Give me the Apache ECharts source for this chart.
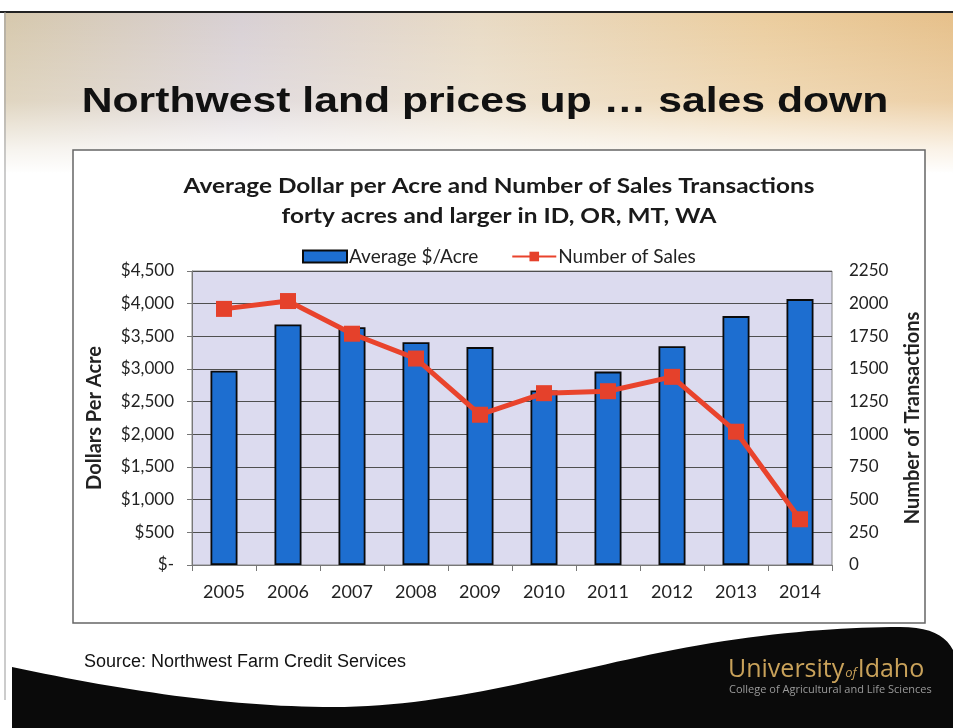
<!DOCTYPE html>
<html style="height: 100%">
<head>
  <meta charset="utf-8">
</head>
<body style="height: 100%; margin: 0; background: #fff">
  <div id="container" style="width: 953px; height: 728px"></div>
  <script type="text/javascript" src="https://cdn.jsdelivr.net/npm/echarts@6/dist/echarts.min.js"></script>
  <script type="text/javascript">
    var years = ['2005', '2006', '2007', '2008', '2009', '2010', '2011', '2012', '2013', '2014'];
    var avgPerAcre = [2975, 3680, 3640, 3410, 3335, 2670, 2960, 3350, 3810, 4070];
    var numSales = [1960, 2020, 1770, 1580, 1150, 1315, 1330, 1440, 1020, 350];

    var dom = document.getElementById('container');
    var myChart = echarts.init(dom);
    var chartFont = 'Lato';

    // outline of the black swoosh at the bottom of the slide (cubic curves)
    function cubic(p0, p1, p2, p3, n, out) {
      for (var i = 0; i <= n; i++) {
        var t = i / n, u = 1 - t;
        out.push([
          u * u * u * p0[0] + 3 * u * u * t * p1[0] + 3 * u * t * t * p2[0] + t * t * t * p3[0],
          u * u * u * p0[1] + 3 * u * u * t * p1[1] + 3 * u * t * t * p2[1] + t * t * t * p3[1]
        ]);
      }
      return out;
    }
    var wave = [];
    cubic([12, 667], [120, 690], [230, 707], [333, 707], 30, wave);
    cubic([333, 707], [450, 707], [560, 672], [673, 650], 30, wave);
    cubic([673, 650], [760, 633], [840, 627], [900, 627], 20, wave);
    cubic([900, 627], [930, 627], [945, 635], [953, 650], 10, wave);
    wave.push([953, 728], [12, 728]);

    // the slide is stretched sideways, so the text is too
    var stretch = 1.22;

    var decor = [
      {
        type: 'rect', z: -10, silent: true,
        shape: { x: 4, y: 12, width: 949, height: 160 },
        style: {
          fill: new echarts.graphic.LinearGradient(0, 0, 1, 0, [
            { offset: 0, color: '#d6c8ac' },
            { offset: 0.25, color: '#d8d0d4' },
            { offset: 0.5, color: '#e8dac4' },
            { offset: 0.8, color: '#ebcd9e' },
            { offset: 1, color: '#e6c08a' }
          ])
        }
      },
      {
        type: 'rect', z: -9, silent: true,
        shape: { x: 4, y: 12, width: 949, height: 162 },
        style: {
          fill: new echarts.graphic.LinearGradient(0, 0, 0, 1, [
            { offset: 0, color: 'rgba(255,255,255,0)' },
            { offset: 0.55, color: 'rgba(255,255,255,0.25)' },
            { offset: 0.85, color: 'rgba(255,255,255,0.8)' },
            { offset: 1, color: 'rgba(255,255,255,1)' }
          ])
        }
      },
      {
        type: 'line', z: -8, silent: true,
        shape: { x1: 0, y1: 12, x2: 953, y2: 12 },
        style: { stroke: '#222', lineWidth: 2 }
      },
      {
        type: 'line', z: -8, silent: true,
        shape: { x1: 5, y1: 12, x2: 5, y2: 700 },
        style: { stroke: '#999', lineWidth: 1 }
      },
      {
        type: 'rect', z: -7, silent: true,
        shape: { x: 73, y: 150, width: 852, height: 473 },
        style: { fill: '#ffffff', stroke: '#666', lineWidth: 1.5 }
      },
      {
        type: 'polygon', z: -6, silent: true,
        shape: { points: wave },
        style: { fill: '#0a0a0a' }
      },
      {
        type: 'text', z: 5, silent: true,
        x: 485, y: 102, scaleX: stretch,
        style: {
          text: 'Northwest land prices up … sales down',
          font: 'bold 35px "Liberation Sans", Arial, sans-serif',
          fill: '#111',
          align: 'center', verticalAlign: 'middle'
        }
      },
      {
        type: 'text', z: 5, silent: true,
        x: 499, y: 202, scaleX: stretch,
        style: {
          text: 'Average Dollar per Acre and Number of Sales Transactions\nforty acres and larger in ID, OR, MT, WA',
          font: 'bold 20px ' + chartFont,
          lineHeight: 30,
          fill: '#1a1a1a',
          align: 'center', verticalAlign: 'middle'
        }
      },
      {
        type: 'text', z: 5, silent: true,
        left: 84, top: 653,
        style: {
          text: 'Source: Northwest Farm Credit Services',
          font: '18px "Liberation Sans", Arial, sans-serif',
          fill: '#111'
        }
      },
      {
        type: 'text', z: 5, silent: true,
        left: 728, top: 657,
        style: {
          text: '{a|University}{b|of}{a|Idaho}',
          rich: {
            a: { font: '25px "Open Sans", sans-serif', fill: '#c9a25a' },
            b: { font: 'italic 13px "Open Sans", sans-serif', fill: '#c9a25a', padding: [7, 1, 0, 1] }
          }
        }
      },
      {
        type: 'text', z: 5, silent: true,
        left: 729, top: 684,
        style: {
          text: 'College of Agricultural and Life Sciences',
          font: '11px "Open Sans", sans-serif',
          fill: '#9a9a9a'
        }
      }
    ];

    var option = {
      backgroundColor: 'transparent',
      animation: false,
      graphic: decor,
      legend: {
        top: 247,
        left: 302,
        padding: 0,
        itemGap: 33,
        itemWidth: 44,
        itemHeight: 12,
        textStyle: { fontFamily: chartFont, fontSize: 19, color: '#222', padding: [0, 0, 0, -3] },
        data: [
          { name: 'Average $/Acre', icon: 'rect' },
          { name: 'Number of Sales' }
        ]
      },
      grid: {
        left: 192,
        right: 121,
        top: 271,
        bottom: 163,
        show: true,
        backgroundColor: '#dcdbef',
        borderColor: '#888',
        borderWidth: 1
      },
      xAxis: {
        type: 'category',
        data: years,
        axisLine: { lineStyle: { color: '#777', width: 1 } },
        axisTick: { show: true, length: 6, lineStyle: { color: '#777' } },
        axisLabel: { margin: 18, fontFamily: chartFont, fontSize: 18, color: '#222' }
      },
      yAxis: [
        {
          type: 'value',
          min: 0, max: 4500, interval: 500,
          name: 'Dollars Per Acre',
          nameLocation: 'middle',
          nameGap: 87,
          nameRotate: 90,
          nameTextStyle: { fontFamily: chartFont, fontWeight: 'bold', fontSize: 20, color: '#222' },
          axisLine: { show: true, lineStyle: { color: '#777' } },
          axisTick: { show: true, length: 5, lineStyle: { color: '#777' } },
          splitLine: { lineStyle: { color: '#4f4f4f', width: 1 } },
          axisLabel: {
            margin: 18, fontFamily: chartFont, fontSize: 17, color: '#222',
            formatter: function (v) {
              if (v === 0) return '$-';
              return '$' + v.toLocaleString('en-US');
            }
          }
        },
        {
          type: 'value',
          min: 0, max: 2250, interval: 250,
          name: 'Number of Transactions',
          nameLocation: 'middle',
          nameGap: 71,
          nameRotate: 90,
          nameTextStyle: { fontFamily: chartFont, fontWeight: 'bold', fontSize: 20, color: '#222' },
          axisLine: { show: false },
          axisTick: { show: false },
          splitLine: { show: false },
          axisLabel: {
            margin: 17, fontFamily: chartFont, fontSize: 17, color: '#222',
            formatter: function (v) { return String(v); }
          }
        }
      ],
      series: [
        {
          name: 'Average $/Acre',
          type: 'bar',
          yAxisIndex: 0,
          data: avgPerAcre,
          barWidth: 27,
          itemStyle: {
            color: '#1d6ed0',
            borderColor: '#0a0a0a',
            borderWidth: 1.8
          }
        },
        {
          name: 'Number of Sales',
          type: 'line',
          yAxisIndex: 1,
          data: numSales,
          symbol: 'rect',
          symbolSize: 16,
          lineStyle: { color: '#e9432c', width: 5 },
          itemStyle: { color: '#e5412b' }
        }
      ]
    };

    myChart.setOption(option);
  </script>
</body>
</html>
